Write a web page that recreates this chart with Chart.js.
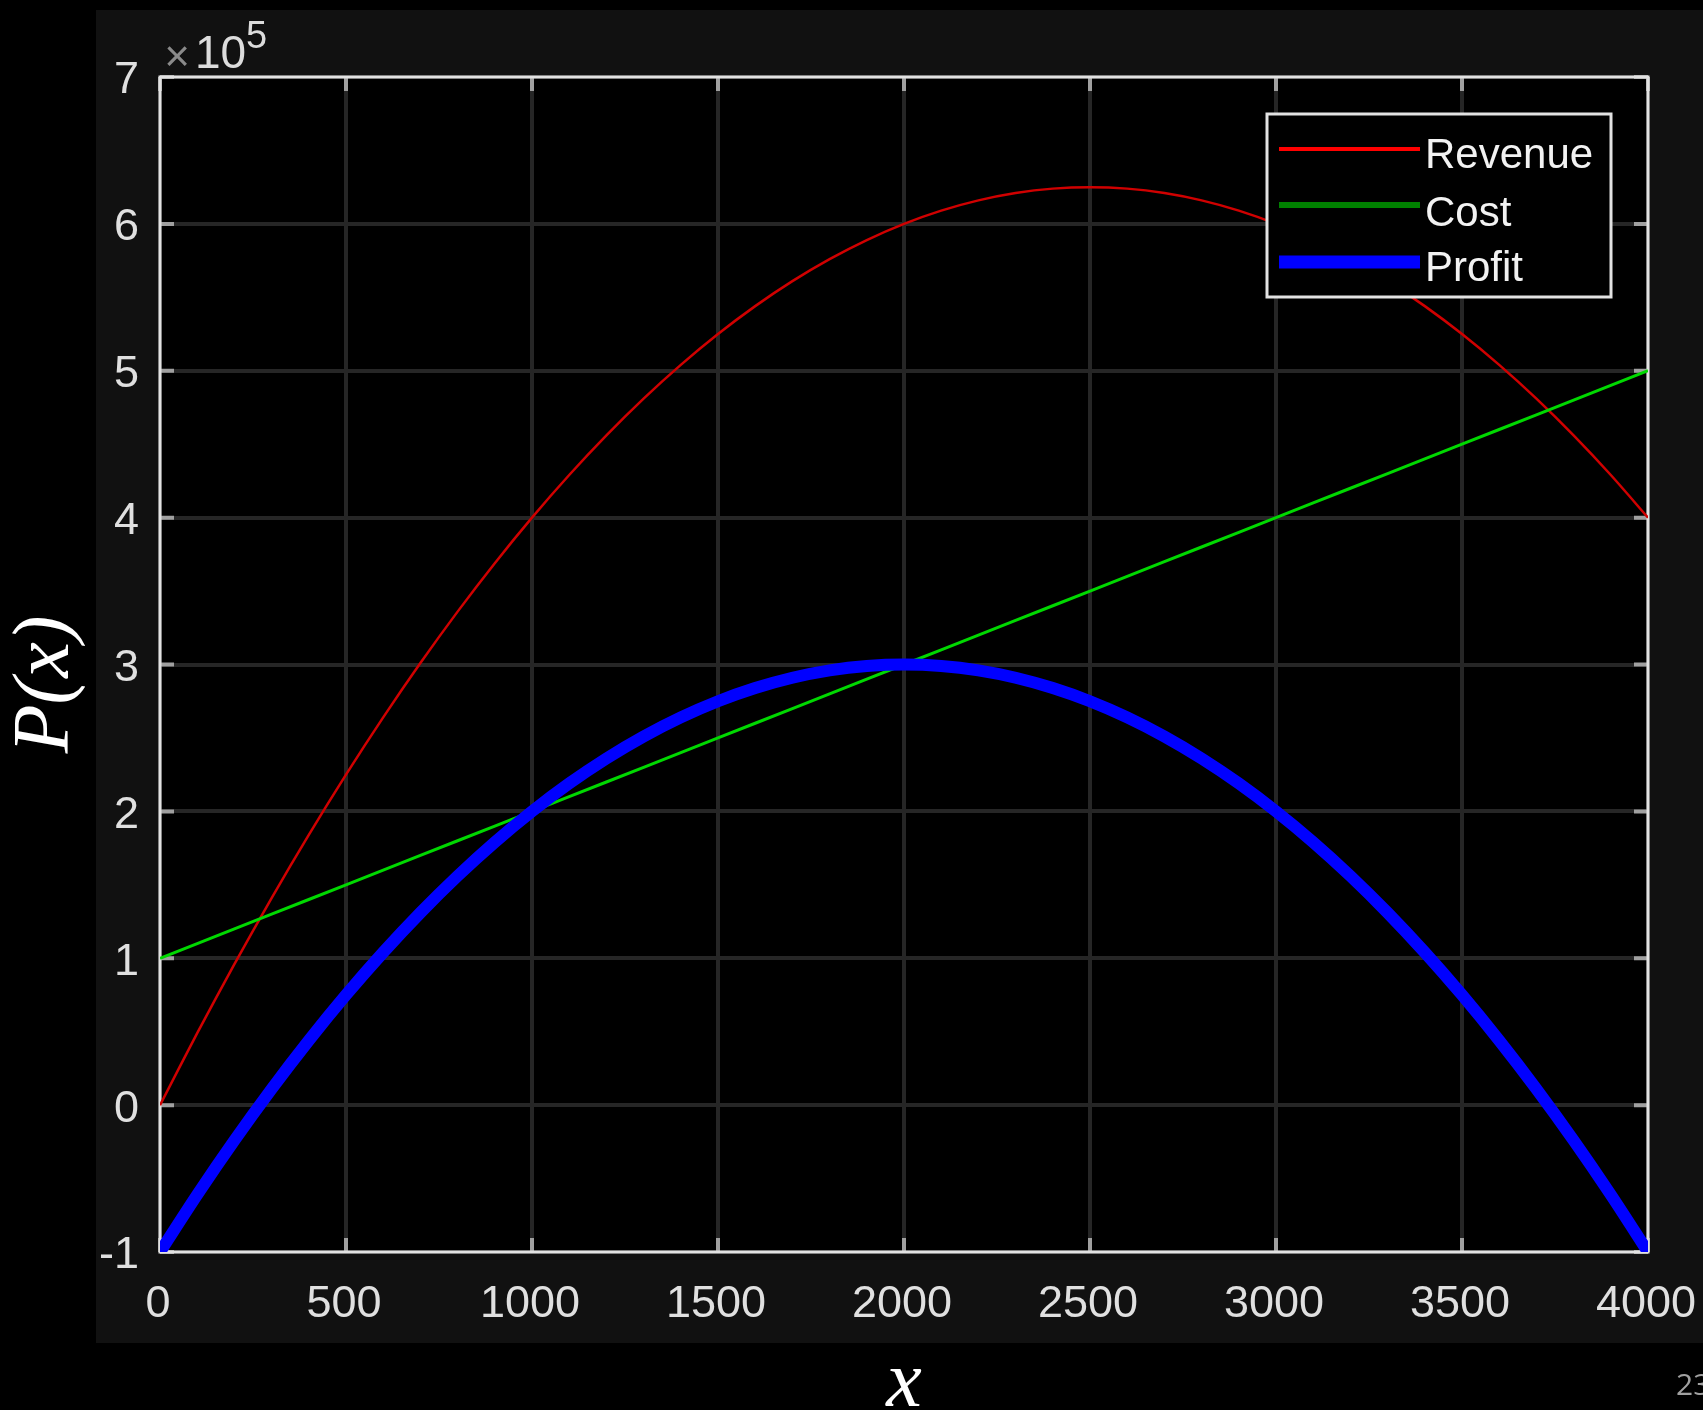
<!DOCTYPE html>
<html>
<head>
<meta charset="utf-8">
<style>
  html, body { margin: 0; padding: 0; background: #000; }
  canvas { display: block; }
</style>
<script src="https://cdn.jsdelivr.net/npm/chart.js@4.4.1/dist/chart.umd.min.js"></script>
</head>
<body>
<canvas id="c" width="1703" height="1410"></canvas>
<script>
// ---- data ----
const xValues = [0,100,200,300,400,500,600,700,800,900,1000,1100,1200,1300,1400,1500,1600,1700,1800,1900,2000,
                 2100,2200,2300,2400,2500,2600,2700,2800,2900,3000,3100,3200,3300,3400,3500,3600,3700,3800,3900,4000];
const revenue = [0,49000,96000,141000,184000,225000,264000,301000,336000,369000,400000,429000,456000,481000,504000,
                 525000,544000,561000,576000,589000,600000,609000,616000,621000,624000,625000,624000,621000,616000,
                 609000,600000,589000,576000,561000,544000,525000,504000,481000,456000,429000,400000];
const cost = [100000,110000,120000,130000,140000,150000,160000,170000,180000,190000,200000,210000,220000,230000,
              240000,250000,260000,270000,280000,290000,300000,310000,320000,330000,340000,350000,360000,370000,
              380000,390000,400000,410000,420000,430000,440000,450000,460000,470000,480000,490000,500000];
const profit = [-100000,-61000,-24000,11000,44000,75000,104000,131000,156000,179000,200000,219000,236000,251000,
                264000,275000,284000,291000,296000,299000,300000,299000,296000,291000,284000,275000,264000,251000,
                236000,219000,200000,179000,156000,131000,104000,75000,44000,11000,-24000,-61000,-100000];
const seriesLabels = ['Revenue', 'Cost', 'Profit'];
const xTickLabels = ['0','500','1000','1500','2000','2500','3000','3500','4000'];
const yTickLabels = ['-1','0','1','2','3','4','5','6','7'];
const yExponent = '5';
const xTitle = 'x';
const yTitle = 'P(x)';
const pageNumber = '23';

const toPoints = arr => xValues.map((x, i) => ({ x: x, y: arr[i] }));

const lineColors = ['#d00000', '#00d800', '#0000ff'];
const legendColors = ['#ff0000', '#008000', '#0000ff'];
const lineWidths = [2.5, 3, 12];
const legendWidths = [4, 6, 13];

const framePlugin = {
  id: 'framePlugin',
  beforeDraw(chart) {
    const { ctx, chartArea: a } = chart;
    ctx.save();
    ctx.fillStyle = '#000000';
    ctx.fillRect(0, 0, chart.width, chart.height);
    ctx.fillStyle = '#111111';
    ctx.fillRect(96, 10, chart.width - 96, 1333);
    ctx.fillStyle = '#000000';
    ctx.fillRect(a.left, a.top, a.right - a.left, a.bottom - a.top);
    ctx.restore();
  },
  beforeDatasetsDraw(chart) {
    const { ctx, chartArea: a, scales } = chart;
    ctx.save();
    ctx.strokeStyle = '#a0a0a0';
    ctx.lineWidth = 4;
    const tl = 14;
    scales.x.ticks.forEach(t => {
      const px = scales.x.getPixelForValue(t.value);
      ctx.beginPath();
      ctx.moveTo(px, a.bottom); ctx.lineTo(px, a.bottom - tl);
      ctx.moveTo(px, a.top); ctx.lineTo(px, a.top + tl);
      ctx.stroke();
    });
    scales.y.ticks.forEach(t => {
      const py = scales.y.getPixelForValue(t.value);
      ctx.beginPath();
      ctx.moveTo(a.left, py); ctx.lineTo(a.left + tl, py);
      ctx.moveTo(a.right, py); ctx.lineTo(a.right - tl, py);
      ctx.stroke();
    });
    ctx.strokeStyle = '#e2e2e2';
    ctx.lineWidth = 3;
    ctx.strokeRect(a.left, a.top, a.right - a.left, a.bottom - a.top);
    ctx.restore();
  },
  afterDatasetsDraw(chart) {
    const { ctx, chartArea: a } = chart;
    const ds = chart.data.datasets;
    const bx = a.right - 381, by = a.top + 37, bw = 344, bh = 183;
    ctx.save();
    ctx.fillStyle = '#000000';
    ctx.fillRect(bx, by, bw, bh);
    ctx.strokeStyle = '#e2e2e2';
    ctx.lineWidth = 3;
    ctx.strokeRect(bx, by, bw, bh);
    const lineY = [35, 91, 148];
    const textY = [54, 112, 167];
    ds.forEach((d, i) => {
      ctx.strokeStyle = legendColors[i];
      ctx.lineWidth = legendWidths[i];
      ctx.beginPath();
      ctx.moveTo(bx + 12, by + lineY[i]);
      ctx.lineTo(bx + 153, by + lineY[i]);
      ctx.stroke();
      ctx.fillStyle = '#f2f2f2';
      ctx.font = '42px "Liberation Sans", Arial, sans-serif';
      ctx.textAlign = 'left';
      ctx.textBaseline = 'alphabetic';
      ctx.fillText(d.label, bx + 158, by + textY[i]);
    });
    ctx.restore();
  },
  afterDraw(chart) {
    const { ctx, chartArea: a } = chart;
    ctx.save();
    ctx.textBaseline = 'alphabetic';
    ctx.textAlign = 'center';
    ctx.fillStyle = '#8a8a8a';
    ctx.font = '44px "Liberation Sans", Arial, sans-serif';
    ctx.fillText('\u00d7', a.left + 17, a.top - 6);
    ctx.textAlign = 'left';
    ctx.fillStyle = '#dcdcdc';
    ctx.font = '46px "Liberation Sans", Arial, sans-serif';
    ctx.fillText('10', a.left + 35, a.top - 9);
    ctx.font = '38px "Liberation Sans", Arial, sans-serif';
    ctx.fillText(yExponent, a.left + 86, a.top - 29);
    ctx.fillStyle = '#ffffff';
    ctx.font = 'italic 80px "Liberation Serif", "DejaVu Serif", serif';
    ctx.textAlign = 'center';
    ctx.fillText(xTitle, (a.left + a.right) / 2, 1406);
    ctx.save();
    ctx.translate(68, (a.top + a.bottom) / 2 + 20);
    ctx.rotate(-Math.PI / 2);
    ctx.fillText(yTitle, 0, 0);
    ctx.restore();
    ctx.fillStyle = '#a0a0a0';
    ctx.font = '30px "Open Sans", sans-serif';
    ctx.textAlign = 'left';
    ctx.fillText(pageNumber, 1676, 1395);
    ctx.restore();
  }
};

const tickFont = { family: '"Liberation Sans", Arial, sans-serif', size: 45 };

new Chart(document.getElementById('c'), {
  type: 'line',
  data: {
    datasets: [
      { label: seriesLabels[0], data: toPoints(revenue), borderColor: lineColors[0], borderWidth: lineWidths[0], tension: 0.3, order: 3 },
      { label: seriesLabels[1], data: toPoints(cost), borderColor: lineColors[1], borderWidth: lineWidths[1], tension: 0, order: 2 },
      { label: seriesLabels[2], data: toPoints(profit), borderColor: lineColors[2], borderWidth: lineWidths[2], tension: 0.3, order: 1 }
    ]
  },
  options: {
    responsive: false,
    animation: false,
    devicePixelRatio: 1,
    elements: { point: { radius: 0 }, line: { fill: false, borderCapStyle: 'butt' } },
    layout: { autoPadding: false, padding: { left: 0, right: 55, top: 77, bottom: 0 } },
    plugins: { legend: { display: false }, tooltip: { enabled: false } },
    scales: {
      x: {
        type: 'linear',
        min: 0, max: 4000,
        afterFit(scale) { scale.height = 158; scale.paddingLeft = 0; scale.paddingRight = 0; },
        border: { display: false },
        grid: { color: '#262626', lineWidth: 4, drawTicks: false },
        ticks: {
          stepSize: 500,
          padding: 26,
          labelOffset: -2,
          color: '#e0e0e0',
          font: tickFont,
          maxRotation: 0,
          autoSkip: false,
          callback: (v, i) => xTickLabels[i]
        }
      },
      y: {
        type: 'linear',
        min: -100000, max: 700000,
        afterFit(scale) { scale.width = 160; scale.paddingTop = 0; scale.paddingBottom = 0; },
        border: { display: false },
        grid: { color: '#262626', lineWidth: 4, drawTicks: false },
        ticks: {
          stepSize: 100000,
          padding: 21,
          labelOffset: 4,
          color: '#e0e0e0',
          font: tickFont,
          autoSkip: false,
          callback: (v, i) => yTickLabels[i]
        }
      }
    }
  },
  plugins: [framePlugin]
});
</script>
</body>
</html>
